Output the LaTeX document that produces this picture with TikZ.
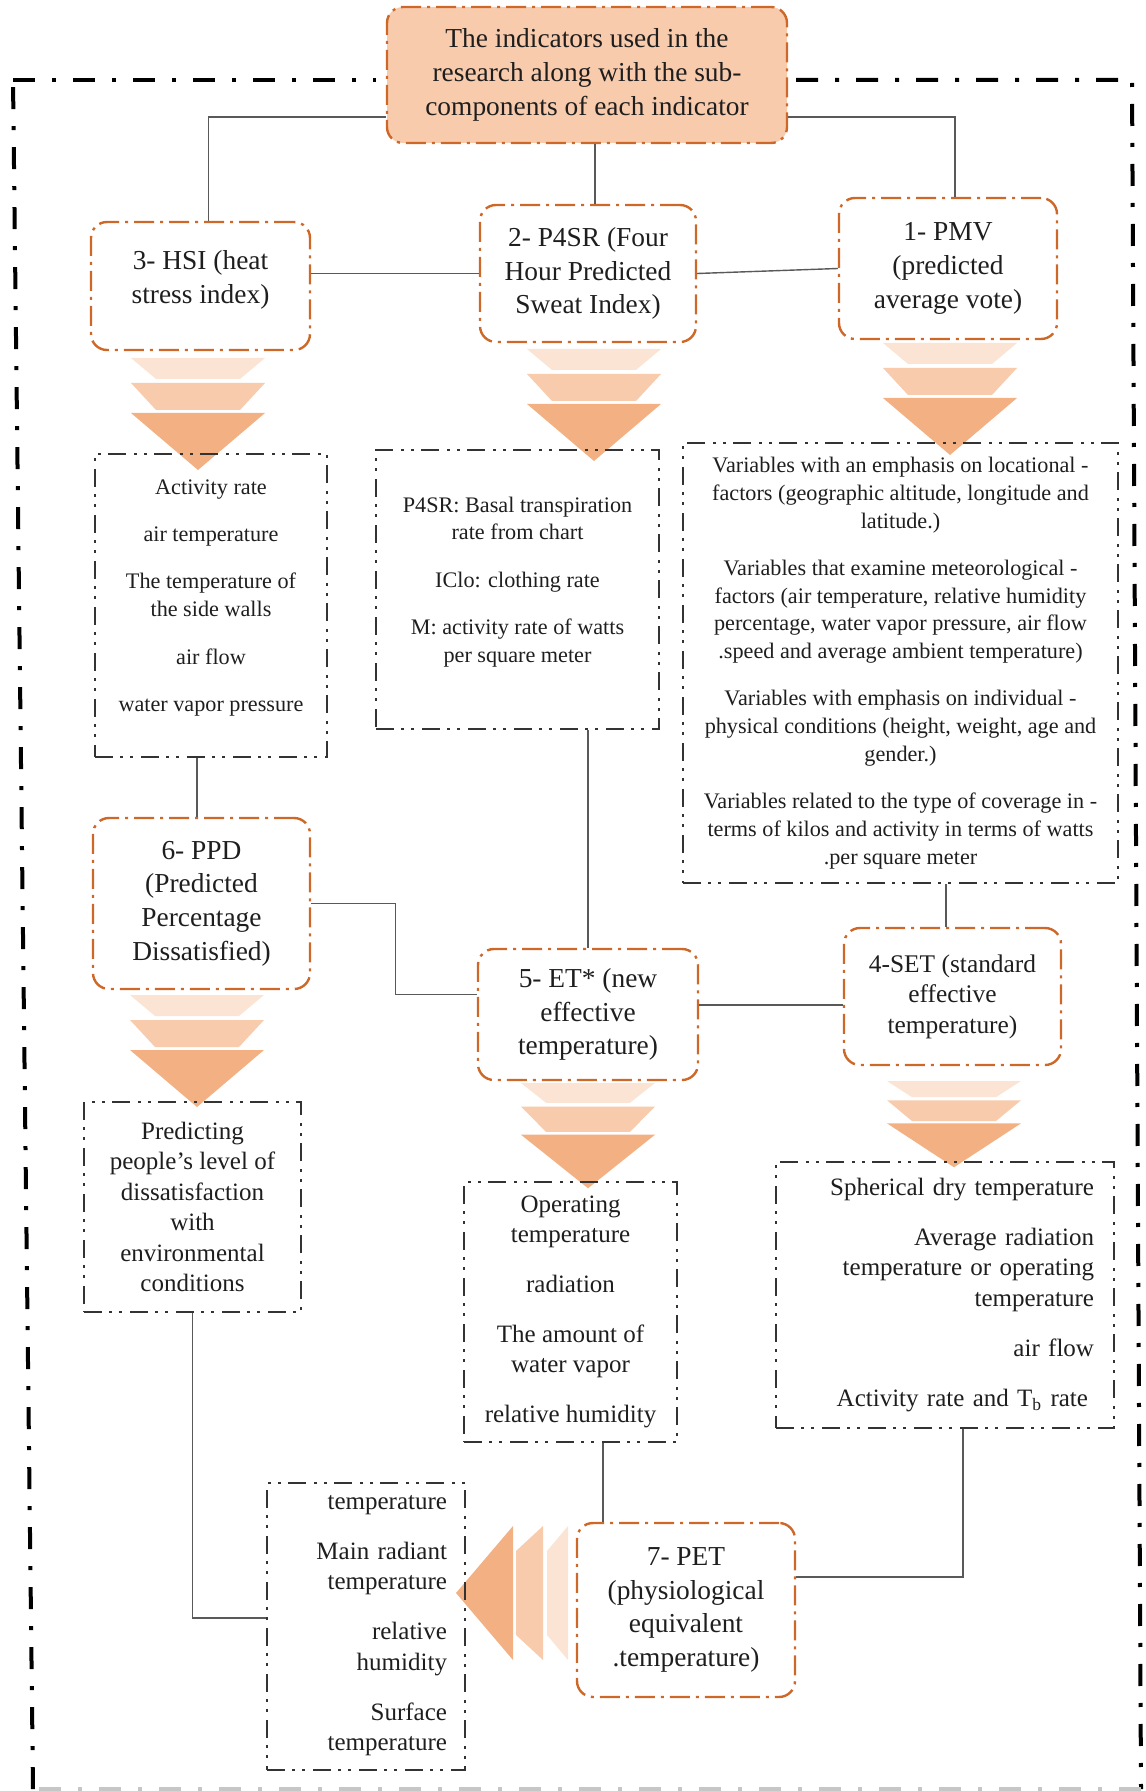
\documentclass[tikz,border=0pt]{standalone}
\usepackage{fontspec}
\setmainfont{Liberation Serif}
\usetikzlibrary{calc}
\definecolor{boxedge}{RGB}{206,104,40}
\definecolor{peach}{RGB}{248,203,173}
\definecolor{funA}{RGB}{251,228,212}
\definecolor{funB}{RGB}{247,203,172}
\definecolor{funC}{RGB}{243,177,131}
\definecolor{inktext}{RGB}{30,30,30}
\newcommand{\titlefont}{\fontsize{13.7}{16.8}\selectfont}
\newcommand{\smalltitlefont}{\fontsize{12.7}{15.3}\selectfont}
\newcommand{\listfont}{\fontsize{11.1}{13.9}\selectfont}
\newcommand{\lowfont}{\fontsize{12.5}{15.2}\selectfont}
% three-step funnel, drawn pointing down from its top centre
\newcommand{\funneldown}[1]{%
  \begin{scope}[#1]
    \fill[funA] (-67,0) -- (67,0) -- (42,21) -- (-42,21) -- cycle;
    \fill[funB] (-67,25) -- (67,25) -- (42,52) -- (-42,52) -- cycle;
    \fill[funC] (-67,55) -- (67,55) -- (0,112) -- cycle;
  \end{scope}}
\tikzset{
  idxbox/.style={draw=boxedge, line width=1.2pt, dash pattern=on 10pt off 3pt on 1.5pt off 3pt,
    rounded corners=8pt, align=center, text=inktext, font=\titlefont, inner sep=2pt},
  varbox/.style={draw=black!80, line width=1.1pt,
    dash pattern=on 9pt off 3.5pt on 1.5pt off 3.5pt on 1.5pt off 4pt,
    align=center, text=inktext, font=\listfont, inner sep=2pt},
  wire/.style={draw=black!65, line width=0.7pt},
  framedash/.style={line width=2pt, dash pattern=on 11pt off 8.5pt on 2pt off 8.5pt},
}
\begin{document}
\begin{tikzpicture}[x=0.5pt,y=-0.5pt]
\useasboundingbox (0,0) rectangle (1145,1791);
% outer frame
\draw[framedash] (13,80) -- (376,80);
\draw[framedash] (796,80) -- (1132,80) -- (1141,1789);
\draw[framedash,gray!45] (1141,1789) -- (33,1789);
\draw[framedash] (33,1789) -- (13,80);
% funnels
\funneldown{shift={(198,358)}}
\funneldown{shift={(594,349)}}
\funneldown{shift={(950,343)}}
\funneldown{shift={(197,995)}}
\funneldown{shift={(588,1083)},yscale=0.94}
\funneldown{shift={(954,1081)},yscale=0.77}
\funneldown{shift={(568,1593)},rotate=-90}
% indicators
\node[idxbox,fill=peach,minimum width=200pt,minimum height=68pt] (top) at (587,75)
  {The indicators used in the\\research along with the sub-\\components of each indicator};
\node[idxbox,minimum width=109.5pt,minimum height=64pt] (hsi) at (200.5,286) {3- HSI (heat\\stress index)\\[-7.8pt]\mbox{}};
\node[idxbox,minimum width=108pt,minimum height=68.5pt] (psr) at (588,273.5) {2- P4SR (Four\\Hour Predicted\\Sweat Index)};
\node[idxbox,minimum width=109pt,minimum height=70.5pt] (pmv) at (948,268.5) {1- PMV\\(predicted\\average vote)};
\node[idxbox,minimum width=108.5pt,minimum height=85.5pt] (ppd) at (201.5,903.5) {6- PPD\\(Predicted\\Percentage\\Dissatisfied)};
\node[idxbox,minimum width=110pt,minimum height=65.5pt] (et) at (588,1014.5) {5- ET* (new\\effective\\temperature)};
\node[idxbox,font=\smalltitlefont,minimum width=108.5pt,minimum height=68.5pt] (setn) at (952.5,996.5) {4-SET (standard\\effective\\temperature)};
\node[idxbox,minimum width=109pt,minimum height=87pt] (pet) at (686,1610) {7- PET\\(physiological\\equivalent\\.temperature)};
% sub-components
\node[varbox,minimum width=116pt,minimum height=151.5pt] (hsi-var) at (211,605.5)
  {Activity rate\\[9.8pt]air temperature\\[9.8pt]The temperature of\\the side walls\\[9.8pt]air flow\\[9.8pt]water vapor pressure\\[-3.9pt]\mbox{}};
\node[varbox,minimum width=141.5pt,minimum height=139.5pt] (psr-var) at (517.5,589.5)
  {P4SR: Basal transpiration\\rate from chart\\[9.8pt]IClo: clothing rate\\[9.8pt]M: activity rate of watts\\per square meter\\[-3.9pt]\mbox{}};
\node[varbox,minimum width=217.5pt,minimum height=220pt] (pmv-var) at (900.5,663)
  {Variables with an emphasis on locational -\\factors (geographic altitude, longitude and\\latitude.)\\[9.7pt]
   Variables that examine meteorological -\\factors (air temperature, relative humidity\\percentage, water vapor pressure, air flow\\.speed and average ambient temperature)\\[9.7pt]
   Variables with emphasis on individual -\\physical conditions (height, weight, age and\\gender.)\\[9.7pt]
   Variables related to the type of coverage in -\\terms of kilos and activity in terms of watts\\.per square meter};
\node[varbox,font=\lowfont,minimum width=108.5pt,minimum height=105pt] (ppd-var) at (192.5,1207)
  {Predicting\\people's level of\\dissatisfaction\\with\\environmental\\conditions};
\node[varbox,font=\lowfont,minimum width=106.5pt,minimum height=130pt] (et-var) at (570.5,1312)
  {Operating\\temperature\\[9.8pt]radiation\\[9.8pt]The amount of\\water vapor\\[9.8pt]relative humidity};
\node[varbox,font=\lowfont,align=right,text width=149pt,inner xsep=10pt,minimum height=133pt] (set-var) at (945,1295)
  {Spherical dry temperature\\[9.8pt]Average radiation\hspace*{6.5pt}\\temperature or operating\\temperature\\[9.8pt]air flow\hspace*{3pt}\\[9.8pt]Activity rate and T\textsubscript{b} rate\hspace*{3pt}};
\node[varbox,font=\lowfont,align=right,text width=81pt,inner xsep=9pt,minimum height=143.5pt] (pet-var) at (366,1626.5)
  {\mbox{}\\[-9.2pt]temperature\\[9.8pt]Main radiant\hspace*{6pt}\\temperature\\[9.8pt]relative\hspace*{6pt}\\humidity\\[9.8pt]Surface\\temperature};
% connectors
\draw[wire] ([yshift=-21pt]top.west) -| ([xshift=4pt]hsi.north);
\draw[wire] ([xshift=4pt]top.south) -- ([xshift=4pt]top.south |- psr.north);
\draw[wire] ([yshift=-21pt]top.east) -| ([xshift=3.5pt]pmv.north);
\draw[wire] (hsi.east |- psr.west) -- (psr.west);
\draw[wire] (psr.east) -- (pmv.west);
\draw[wire] ([xshift=-2.25pt]ppd.north) -- ([xshift=-2.25pt]ppd.north |- hsi-var.south);
\draw[wire] (et.north) -- (et.north |- psr-var.south);
\draw[wire] ([xshift=-3.25pt]setn.north) -- ([xshift=-3.25pt]setn.north |- pmv-var.south);
\draw[wire] (ppd.east) -- ++(84,0) |- ([yshift=10pt]et.west);
\draw[wire] ([yshift=4.75pt]et.east) -- ([yshift=4.75pt]et.east -| setn.west);
\draw[wire] ([xshift=-41.5pt]pet.north) -- ([xshift=-41.5pt]pet.north |- et-var.south);
\draw[wire] ([xshift=9pt]set-var.south) |- ([yshift=16.5pt]pet.east);
\draw[wire] (ppd-var.south) |- ([yshift=4.25pt]pet-var.west);
\end{tikzpicture}
\end{document}
